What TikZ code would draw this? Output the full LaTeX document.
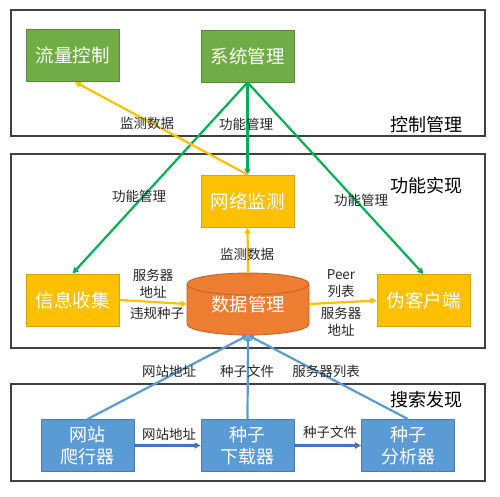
\documentclass[tikz,border=0pt]{standalone}
\usepackage{fontspec}
\setmainfont{Noto Sans CJK SC}
\usetikzlibrary{arrows.meta}
\definecolor{gfill}{HTML}{70AD47}
\definecolor{gline}{HTML}{00B050}
\definecolor{yfill}{HTML}{FFC000}
\definecolor{ofill}{HTML}{ED7D31}
\definecolor{bfill}{HTML}{5B9BD5}
\definecolor{bline}{HTML}{4472C4}
\definecolor{frame}{HTML}{404040}
\begin{document}
\begin{tikzpicture}[x=1pt,y=-1pt,
  layer/.style={draw=frame,line width=1.2pt},
  box/.style={minimum width=93pt,minimum height=52pt,inner sep=0pt,text=white,font=\fontsize{18.5}{21}\selectfont,align=center},
  gbox/.style={box,fill=gfill,draw=gfill!80!black,line width=0.8pt},
  ybox/.style={box,fill=yfill,draw=yfill!85!black,line width=0.8pt},
  bbox/.style={box,fill=bfill,draw=bfill!80!black,line width=0.8pt,font=\fontsize{18}{21.5}\selectfont},
  lbl/.style={font=\fontsize{13.5}{17}\selectfont,text=black!85,inner sep=1pt,align=center},
  ttl/.style={font=\fontsize{18}{21}\selectfont,text=black,inner sep=0pt},
  tip/.style={-{Triangle[length=6pt,width=6pt]}},
  garr/.style={tip,draw=gline,line width=2.2pt},
  yarr/.style={tip,draw=yfill,line width=2.2pt},
  barr/.style={tip,draw=bfill,line width=2.2pt},
  dbarr/.style={tip,draw=bline,line width=2.2pt}]
\useasboundingbox (0,0) rectangle (500,496);
% layers
\draw[layer] (11,10) rectangle (485,136);
\draw[layer] (11,154) rectangle (485,348);
\draw[layer] (11,384) rectangle (485,481);
\node[ttl] (t1) at (426,125) {控制管理};
\node[ttl] (t2) at (426,186) {功能实现};
\node[ttl] (t3) at (426,400) {搜索发现};
% nodes
\node[gbox] (flow) at (72.5,55) {流量控制};
\node[gbox] (sys) at (247.5,56) {系统管理};
\node[ybox] (mon) at (247.5,201) {网络监测};
\node[ybox] (info) at (72.5,300) {信息收集};
\node[ybox] (fake) at (423.5,300.5) {伪客户端};
\node[bbox] (crawl) at (87.5,445.5) {网站\\爬行器};
\node[bbox] (down) at (247.5,445.5) {种子\\下载器};
\node[bbox] (ana) at (408,445.5) {种子\\分析器};
% cylinder
\fill[ofill] (187,284) -- (187,324) arc[start angle=180,end angle=0,x radius=61,y radius=11] -- (309,284) arc[start angle=0,end angle=-180,x radius=61,y radius=11] -- cycle;
\draw[ofill!80!black,line width=0.8pt] (187,284) -- (187,324) arc[start angle=180,end angle=0,x radius=61,y radius=11] -- (309,284);
\draw[ofill!80!black,line width=0.8pt] (248,284) ellipse[x radius=61,y radius=11];
\node[minimum width=122pt,minimum height=62pt,inner sep=0pt,text=white,font=\fontsize{18.5}{21}\selectfont] (dm) at (248,304) {\raisebox{-5pt}{数据管理}};
% green arrows
\draw[garr] (sys.south) -- (mon.north);
\draw[garr] (sys.south) -- (info.north);
\draw[garr] (sys.south) -- (fake.north);
% yellow arrows
\draw[yarr] (mon.north) -- (75,82);
\draw[yarr] (dm.north) -- (mon.south);
\draw[yarr] (info.east) -- (dm.west);
\draw[yarr] (dm.east) -- (fake.west);
% blue arrows
\draw[barr] (crawl.north) -- (dm.south);
\draw[barr] (down.north) -- (dm.south);
\draw[barr] (ana.north) -- (dm.south);
\draw[dbarr] (crawl.east) -- (down.west);
\draw[dbarr] (down.east) -- (ana.west);
% labels
\node[lbl] (l1) at (147,123) {监测数据};
\node[lbl] (l2) at (246,124) {功能管理};
\node[lbl] (l3) at (139,196) {功能管理};
\node[lbl] (l4) at (361,200) {功能管理};
\node[lbl] (l5) at (247,254) {监测数据};
\node[lbl] (l6) at (153,284) {服务器\\地址};
\node[lbl] (l7) at (157,313) {违规种子};
\node[lbl] (l8) at (341,284) {Peer\\列表};
\node[lbl] (l9) at (341,322) {服务器\\地址};
\node[lbl] (l10) at (169,371) {网站地址};
\node[lbl] (l11) at (247,371) {种子文件};
\node[lbl] (l12) at (326,371) {服务器列表};
\node[lbl] (l13) at (169,434) {网站地址};
\node[lbl] (l14) at (330,432) {种子文件};
\end{tikzpicture}
\end{document}
